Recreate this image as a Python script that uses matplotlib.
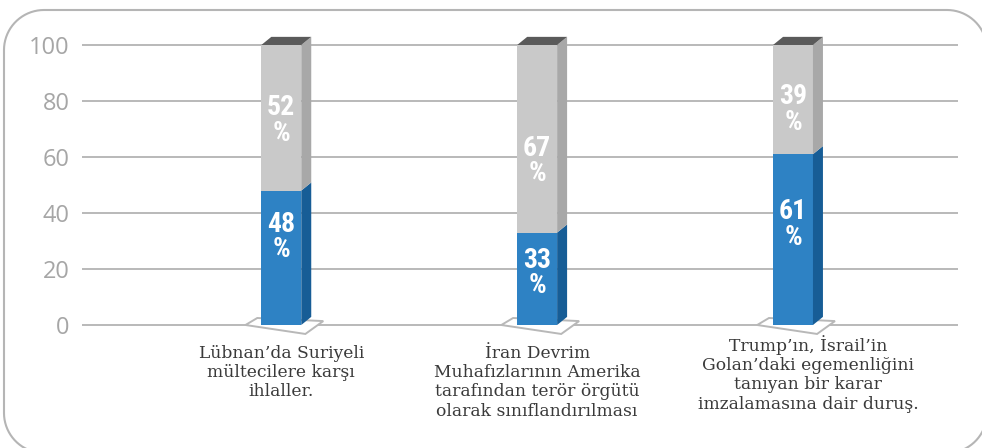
import matplotlib.pyplot as plt
from matplotlib.patches import Polygon
from matplotlib.lines import Line2D
from matplotlib.transforms import Bbox
from matplotlib import font_manager
import numpy as np

# data
categories = ["Lübnan’da Suriyeli\nmültecilere karşı\nihlaller.",
              "İran Devrim\nMuhafızlarının Amerika\ntarafından terör örgütü\nolarak sınıflandırılması",
              "Trump’ın, İsrail’in\nGolan’daki egemenliğini\ntanıyan bir karar\nimzalamasına dair duruş."]
blue_vals = [48, 33, 61]
gray_vals = [52, 67, 39]
yticks = [0, 20, 40, 60, 80, 100]

# colours
blue_front, blue_side = '#2e82c4', '#175d96'
gray_front, gray_side = '#c9c9c9', '#a8a8a8'
top_col = '#5a5a5a'
grid_col = '#b3b3b3'

# pick a narrow font for the value labels if one is installed
fonts = font_manager.fontManager.ttflist
lab_kw = dict(family=['Roboto', 'DejaVu Sans'])
for f in fonts:
    if f.name in ('Liberation Sans Narrow', 'Roboto Condensed'):
        lab_kw = dict(family=[f.name, 'DejaVu Sans'])
        break
else:
    if any(f.name == 'DejaVu Sans' and f.stretch == 'condensed' for f in fonts):
        lab_kw = dict(family=['DejaVu Sans'], stretch='condensed')

W, H = 9.82, 4.48
fig = plt.figure(figsize=(W, H), dpi=100)

# rounded frame drawn as a plain line in inches (runs off right/bottom edge)
def rounded_rect(left, bottom, right, top, r, n=20):
    xs, ys = [], []
    corners = [(right - r, top - r, 0, 90), (left + r, top - r, 90, 180),
               (left + r, bottom + r, 180, 270), (right - r, bottom + r, 270, 360)]
    for cx, cy, a0, a1 in corners:
        t = np.radians(np.linspace(a0, a1, n))
        xs.extend(cx + r * np.cos(t))
        ys.extend(cy + r * np.sin(t))
    xs.append(xs[0])
    ys.append(ys[0])
    return xs, ys

fx, fy = rounded_rect(0.04, -0.05, 9.87, 4.38, 0.40)
fig.add_artist(Line2D(fx, fy, transform=fig.dpi_scale_trans,
                      color='#b5b5b5', linewidth=1.5))

ax = fig.add_axes([0.0835, 0.2433, 0.8921, 0.7188], zorder=1)
ax.patch.set_alpha(0)

x = np.arange(len(categories))
width = 0.156
dx, dy = 0.039, 2.9   # depth of the fake 3d

ax.set_xlim(-0.779, 2.645)
ax.set_ylim(-5, 110)
ax.set_yticks(yticks)
ax.set_xticks([])
for s in ax.spines.values():
    s.set_visible(False)
ax.tick_params(axis='y', length=0, pad=9, labelsize=17, labelcolor='#a6a6a6')
for lab in ax.get_yticklabels():
    lab.set_fontfamily('Open Sans')
ax.grid(axis='y', color=grid_col, linewidth=1.3, zorder=0)
ax.set_axisbelow(True)

# floor shadow under each bar
for xi in x:
    x0 = xi - width / 2
    floor = Polygon([(x0 - 0.062, 0), (x0 - 0.016, 2.5),
                     (x0 + 0.242, 1.4), (x0 + 0.172, -3.2)],
                    closed=True, facecolor='white', edgecolor='#b8b8b8',
                    linewidth=1.4, zorder=1)
    ax.add_patch(floor)

b1 = ax.bar(x, blue_vals, width, color=blue_front, zorder=3)
b2 = ax.bar(x, gray_vals, width, bottom=blue_vals, color=gray_front, zorder=3)

def side_faces(bars, col):
    for bar in bars:
        x1 = bar.get_x() + bar.get_width()
        y0 = bar.get_y()
        y1 = y0 + bar.get_height()
        ax.add_patch(Polygon([(x1, y0), (x1 + dx, y0 + dy), (x1 + dx, y1 + dy), (x1, y1)],
                             closed=True, facecolor=col, edgecolor='none', zorder=3))

side_faces(b1, blue_side)
side_faces(b2, gray_side)

# top faces
for bar in b2:
    xl = bar.get_x()
    xr = xl + bar.get_width()
    yt = bar.get_y() + bar.get_height()
    ax.add_patch(Polygon([(xl, yt), (xr, yt), (xr + dx, yt + dy), (xl + dx, yt + dy)],
                         closed=True, facecolor=top_col, edgecolor='none', zorder=3))

# value labels (small vertical nudges as in the original)
shift = {0: [7.5, 2.0, 5.4], 1: [-1.0, -8.0, -3.5]}
for k, bars in enumerate((b1, b2)):
    for i, bar in enumerate(bars):
        h = bar.get_height()
        cx = bar.get_x() + bar.get_width() / 2
        cy = bar.get_y() + h / 2 + shift[k][i]
        ax.text(cx, cy, f'{h}\n%', ha='center', va='center', color='white',
                fontsize=20, fontweight='bold', linespacing=0.92, zorder=5,
                **lab_kw)

# category labels
label_y = [-7.0, -7.0, -3.5]
label_dx = [0.0, 0.0, 0.06]
for i, cat in enumerate(categories):
    ax.text(x[i] + label_dx[i], label_y[i], cat, ha='center', va='top',
            fontsize=12.3, color='#3a3a3a', family=['DejaVu Serif'],
            linespacing=1.18, clip_on=False)

# save the whole canvas exactly, never a tight crop
plt.savefig('out.png', dpi=100, bbox_inches=Bbox.from_bounds(0, 0, W, H))
